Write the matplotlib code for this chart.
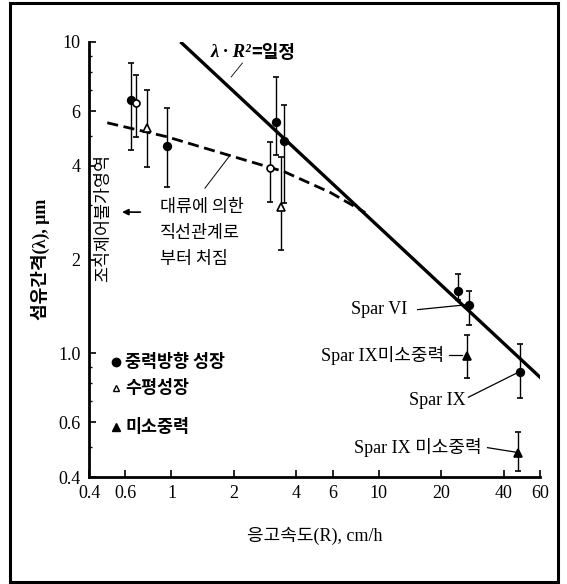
import matplotlib

matplotlib.use("Agg")

import matplotlib.pyplot as plt
import numpy as np
from matplotlib.patches import Rectangle
from matplotlib.ticker import FixedLocator, FixedFormatter, NullFormatter, LogLocator

KR = "Noto Sans CJK KR"
MIX = ["Liberation Serif", "Noto Sans CJK KR"]

# filled circles: 중력방향 성장
grav_x = [0.64, 0.95, 3.2, 3.5, 24.0, 27.4, 47.8]
grav_y = [6.5, 4.63, 5.53, 4.8, 1.58, 1.43, 0.87]
grav_lo = [4.5, 3.42, 4.33, 3.03, 1.48, 1.23, 0.72]
grav_hi = [8.56, 6.13, 7.72, 6.27, 1.80, 1.58, 1.07]

# open circles
open_x = [0.675, 3.0]
open_y = [6.36, 3.94]
open_lo = [4.95, 3.06]
open_hi = [7.83, 4.77]

# open triangles: 수평성장
horiz_x = [0.76, 3.38]
horiz_y = [5.29, 2.95]
horiz_lo = [3.97, 2.14]
horiz_hi = [7.01, 4.27]

# filled triangles: 미소중력
micro_x = [26.8, 47.0]
micro_y = [0.977, 0.477]
micro_lo = [0.83, 0.418]
micro_hi = [1.14, 0.558]

# lambda * R^2 = const line
const_x = [1.12, 60.0]
const_y = [9.93, 0.837]

# convection deviation (dashed)
conv_x = [0.49, 0.95, 1.86, 3.5, 5.86, 8.6]
conv_y = [5.5, 4.96, 4.34, 3.83, 3.28, 2.83]

x_ticks = [0.4, 0.6, 1, 2, 4, 6, 10, 20, 40, 60]
x_tick_labels = ["0.4", "0.6", "1", "2", "4", "6", "10", "20", "40", "60"]
y_ticks = [0.4, 0.6, 1.0, 2, 4, 6, 10]
y_tick_labels = ["0.4", "0.6", "1.0", "2", "4", "6", "10"]


def errbar(ax, x, y, lo, hi, marker, face, ms):
    y = np.asarray(y)
    yerr = [y - np.asarray(lo), np.asarray(hi) - y]
    ax.errorbar(x, y, yerr=yerr, fmt="none", ecolor="black", elinewidth=1.0,
                capsize=2.0, capthick=1.2, zorder=3)
    ax.plot(x, y, linestyle="none", marker=marker, markersize=ms,
            markerfacecolor=face, markeredgecolor="black", markeredgewidth=1.2, zorder=4)


fig = plt.figure(figsize=(5.67, 5.84), dpi=100)
fig.patch.set_facecolor("white")
ax = fig.add_axes([89 / 567, 107 / 584, 451 / 567, 435 / 584])

ax.plot(const_x, const_y, color="black", linewidth=2.4, zorder=2)
ax.plot(conv_x, conv_y, color="black", linewidth=2.0, linestyle=(0, (4, 2)), zorder=2)

errbar(ax, grav_x, grav_y, grav_lo, grav_hi, "o", "black", 5.5)
errbar(ax, open_x, open_y, open_lo, open_hi, "o", "white", 5.0)
errbar(ax, horiz_x, horiz_y, horiz_lo, horiz_hi, "^", "white", 5.5)
errbar(ax, micro_x, micro_y, micro_lo, micro_hi, "^", "black", 5.5)

ax.set_xscale("log")
ax.set_yscale("log")
ax.set_xlim(0.4, 60)
ax.set_ylim(0.4, 10)
ax.xaxis.set_major_locator(FixedLocator(x_ticks))
ax.xaxis.set_major_formatter(FixedFormatter(x_tick_labels))
ax.xaxis.set_minor_locator(FixedLocator([]))
ax.yaxis.set_major_locator(FixedLocator(y_ticks))
ax.yaxis.set_major_formatter(FixedFormatter(y_tick_labels))
ax.yaxis.set_minor_locator(LogLocator(base=10, subs=np.arange(2, 10)))
ax.yaxis.set_minor_formatter(NullFormatter())
ax.tick_params(axis="both", which="major", direction="in", length=5, width=1.2,
               labelsize=13, pad=6)
ax.tick_params(axis="y", which="minor", direction="in", length=2.5, width=1.0)
for lab in ax.get_xticklabels() + ax.get_yticklabels():
    lab.set_family("Liberation Serif")

ax.spines[["top", "right"]].set_visible(False)
ax.spines["left"].set_linewidth(2.0)
ax.spines["bottom"].set_linewidth(2.0)

ax.set_xlabel("응고속도(R), cm/h", family=MIX, fontsize=13, labelpad=18)
ax.set_ylabel("섬유간격(λ), μm", family=MIX, fontsize=13, fontweight="bold", labelpad=6)

# lambda R^2 label
t1 = ax.text(1.54, 9.22, "λ · R²", family="Liberation Serif", style="italic",
             fontweight="bold", fontsize=13.5, ha="left", va="center")
ax.annotate("=일정", xy=(1, 0.5), xycoords=t1, family=KR, fontsize=13,
            fontweight="bold", ha="left", va="center")
ax.plot([1.94, 2.2], [7.72, 8.56], color="black", linewidth=0.6)

# convection annotation
ax.text(0.467, 2.72, "조직제어불가영역", family=KR, fontsize=12.5, rotation=90,
        ha="center", va="center")
ax.annotate("", xy=(0.56, 2.84), xytext=(0.73, 2.84),
            arrowprops=dict(arrowstyle="-|>", color="black", lw=1.2, mutation_scale=9))
for yy, line in zip([2.94, 2.43, 2.01], ["대류에 의한", "직선관계로", "부터 처짐"]):
    ax.text(0.88, yy, line, family=KR, fontsize=12.5, ha="left", va="center")
ax.plot([1.45, 1.92], [3.39, 4.33], color="black", linewidth=0.7)

# legend
ax.plot([0.54], [0.935], marker="o", color="black", markersize=6, linestyle="none")
ax.plot([0.54], [0.771], marker="^", markerfacecolor="white", markeredgecolor="black",
        markersize=5, linestyle="none")
ax.plot([0.54], [0.578], marker="^", color="black", markersize=6, linestyle="none")
ax.text(0.597, 0.935, "중력방향 성장", family=KR, fontsize=12.5, fontweight="bold", va="center")
ax.text(0.597, 0.771, "수평성장", family=KR, fontsize=12.5, fontweight="bold", va="center")
ax.text(0.597, 0.578, "미소중력", family=KR, fontsize=12.5, fontweight="bold", va="center")

# Spar labels
spar = [
    ("Spar VI", 13.8, 1.385, [15.4, 26.2], [1.38, 1.43]),
    ("Spar IX미소중력", 20.6, 0.985, [21.8, 25.3], [0.985, 0.985]),
    ("Spar IX", 26.2, 0.706, [27.1, 47.3], [0.722, 0.869]),
    ("Spar IX 미소중력", 31.3, 0.499, [33.5, 45.6], [0.497, 0.481]),
]
for label, tx, ty, lx, ly in spar:
    ax.text(tx, ty, label, family=MIX, fontsize=13, ha="right", va="center")
    ax.plot(lx, ly, color="black", linewidth=0.9)

fig.patches.append(Rectangle((10 / 567, 2 / 584), 548 / 567, 579 / 584,
                             transform=fig.transFigure, fill=False,
                             edgecolor="black", linewidth=2.2))

fig.savefig("out.png", dpi=100)
plt.close(fig)
